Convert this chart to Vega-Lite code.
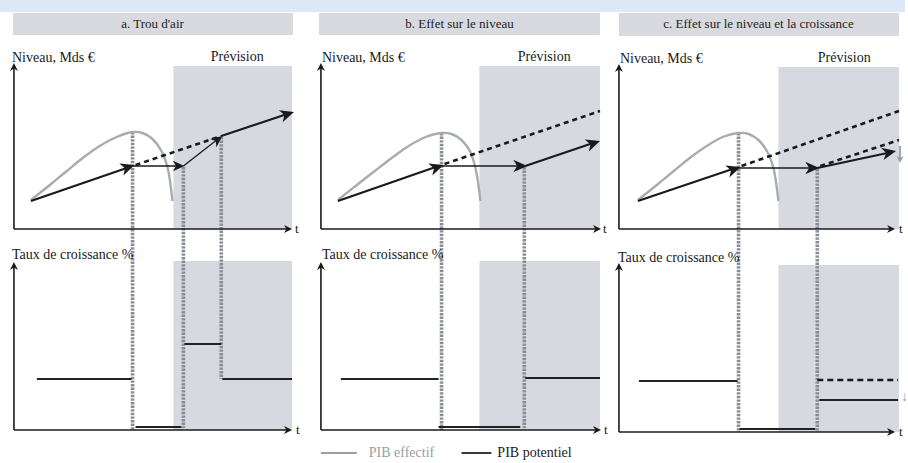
{
  "$schema": "https://vega.github.io/schema/vega-lite/v6.json",
  "width": 908,
  "height": 463,
  "padding": 0,
  "autosize": {"type": "fit", "contains": "padding"},
  "background": "white",
  "config": {"view": {"stroke": null}, "text": {"font": "Liberation Serif"}},
  "datasets": {
    "boxes": [
      {"kind": "band", "x": 0, "x2": 908, "y": 0, "y2": 12},
      {"kind": "title", "x": 13, "x2": 294, "y": 13, "y2": 35},
      {"kind": "title", "x": 320, "x2": 602, "y": 13, "y2": 35},
      {"kind": "title", "x": 621, "x2": 902, "y": 13, "y2": 36},
      {"kind": "shade", "x": 174, "x2": 293, "y": 66, "y2": 229},
      {"kind": "shade", "x": 481, "x2": 602, "y": 66, "y2": 229},
      {"kind": "shade", "x": 781, "x2": 902, "y": 67, "y2": 229},
      {"kind": "shade", "x": 174, "x2": 293, "y": 261, "y2": 430},
      {"kind": "shade", "x": 481, "x2": 602, "y": 261, "y2": 430},
      {"kind": "shade", "x": 781, "x2": 902, "y": 265, "y2": 432}
    ],
    "segs": [
      {"style": "axis", "x": 14, "y": 229, "x2": 14, "y2": 67},
      {"style": "axis", "x": 14, "y": 229, "x2": 289, "y2": 229},
      {"style": "axis", "x": 14, "y": 430, "x2": 14, "y2": 266},
      {"style": "axis", "x": 14, "y": 430, "x2": 289, "y2": 430},
      {"style": "axis", "x": 322, "y": 229, "x2": 322, "y2": 67},
      {"style": "axis", "x": 322, "y": 229, "x2": 599, "y2": 229},
      {"style": "axis", "x": 322, "y": 430, "x2": 322, "y2": 266},
      {"style": "axis", "x": 322, "y": 430, "x2": 599, "y2": 430},
      {"style": "axis", "x": 621, "y": 229, "x2": 621, "y2": 68},
      {"style": "axis", "x": 621, "y": 229, "x2": 894, "y2": 229},
      {"style": "axis", "x": 621, "y": 432, "x2": 621, "y2": 267},
      {"style": "axis", "x": 621, "y": 432, "x2": 894, "y2": 432},

      {"style": "dotted", "x": 133, "y": 132, "x2": 133, "y2": 430},
      {"style": "dotted", "x": 184, "y": 167, "x2": 184, "y2": 428},
      {"style": "dotted", "x": 222, "y": 137, "x2": 222, "y2": 379},
      {"style": "dotted", "x": 443, "y": 133, "x2": 443, "y2": 430},
      {"style": "dotted", "x": 526, "y": 167, "x2": 526, "y2": 428},
      {"style": "dotted", "x": 741, "y": 133, "x2": 741, "y2": 432},
      {"style": "dotted", "x": 820, "y": 169, "x2": 820, "y2": 432},

      {"style": "thick", "x": 31, "y": 201, "x2": 130, "y2": 167},
      {"style": "thick", "x": 222, "y": 136, "x2": 291, "y2": 113},
      {"style": "thick", "x": 339, "y": 201, "x2": 440, "y2": 166},
      {"style": "thick", "x": 527, "y": 166, "x2": 598, "y2": 142},
      {"style": "thick", "x": 640, "y": 201, "x2": 738, "y2": 168},
      {"style": "thick", "x": 820, "y": 168, "x2": 895, "y2": 152},

      {"style": "thin", "x": 133, "y": 166, "x2": 182, "y2": 166},
      {"style": "thin", "x": 184, "y": 166, "x2": 220, "y2": 138},
      {"style": "thin", "x": 443, "y": 166, "x2": 524, "y2": 166},
      {"style": "thin", "x": 741, "y": 168, "x2": 817, "y2": 168},

      {"style": "dashed", "x": 136, "y": 165, "x2": 222, "y2": 136},
      {"style": "dashed", "x": 446, "y": 164, "x2": 602, "y2": 111},
      {"style": "dashed", "x": 744, "y": 166, "x2": 902, "y2": 111},
      {"style": "dashed", "x": 823, "y": 166, "x2": 902, "y2": 140},

      {"style": "growth", "x": 37, "y": 379, "x2": 132, "y2": 379},
      {"style": "growth", "x": 136, "y": 427, "x2": 182, "y2": 427},
      {"style": "growth", "x": 185, "y": 344, "x2": 222, "y2": 344},
      {"style": "growth", "x": 223, "y": 379, "x2": 293, "y2": 379},
      {"style": "growth", "x": 342, "y": 379, "x2": 440, "y2": 379},
      {"style": "growth", "x": 440, "y": 427, "x2": 522, "y2": 427},
      {"style": "growth", "x": 527, "y": 378, "x2": 602, "y2": 378},
      {"style": "growth", "x": 641, "y": 381, "x2": 740, "y2": 381},
      {"style": "growth", "x": 742, "y": 429, "x2": 818, "y2": 429},
      {"style": "growth", "x": 822, "y": 400, "x2": 901, "y2": 400},
      {"style": "growthdash", "x": 820, "y": 380, "x2": 901, "y2": 380},

      {"style": "grayarrow", "x": 903, "y": 146, "x2": 903, "y2": 158},
      {"style": "legendgray", "x": 322, "y": 453, "x2": 358, "y2": 453},
      {"style": "legendblack", "x": 463, "y": 453, "x2": 493, "y2": 453}
    ],
    "curves": [
      {"panel": "a", "o": 0, "x": 31, "y": 200},
      {"panel": "a", "o": 1, "x": 50, "y": 185},
      {"panel": "a", "o": 2, "x": 67, "y": 171},
      {"panel": "a", "o": 3, "x": 83, "y": 158},
      {"panel": "a", "o": 4, "x": 100, "y": 146},
      {"panel": "a", "o": 5, "x": 117, "y": 137},
      {"panel": "a", "o": 6, "x": 133, "y": 132},
      {"panel": "a", "o": 7, "x": 143, "y": 133},
      {"panel": "a", "o": 8, "x": 153, "y": 139},
      {"panel": "a", "o": 9, "x": 162, "y": 151},
      {"panel": "a", "o": 10, "x": 168, "y": 167},
      {"panel": "a", "o": 11, "x": 171, "y": 184},
      {"panel": "a", "o": 12, "x": 173, "y": 201},
      {"panel": "b", "o": 0, "x": 339, "y": 200},
      {"panel": "b", "o": 1, "x": 358, "y": 185},
      {"panel": "b", "o": 2, "x": 376, "y": 171},
      {"panel": "b", "o": 3, "x": 393, "y": 158},
      {"panel": "b", "o": 4, "x": 410, "y": 146},
      {"panel": "b", "o": 5, "x": 427, "y": 137},
      {"panel": "b", "o": 6, "x": 443, "y": 133},
      {"panel": "b", "o": 7, "x": 453, "y": 134},
      {"panel": "b", "o": 8, "x": 463, "y": 140},
      {"panel": "b", "o": 9, "x": 472, "y": 152},
      {"panel": "b", "o": 10, "x": 477, "y": 168},
      {"panel": "b", "o": 11, "x": 480, "y": 185},
      {"panel": "b", "o": 12, "x": 482, "y": 201},
      {"panel": "c", "o": 0, "x": 640, "y": 200},
      {"panel": "c", "o": 1, "x": 659, "y": 185},
      {"panel": "c", "o": 2, "x": 676, "y": 171},
      {"panel": "c", "o": 3, "x": 692, "y": 158},
      {"panel": "c", "o": 4, "x": 709, "y": 146},
      {"panel": "c", "o": 5, "x": 725, "y": 137},
      {"panel": "c", "o": 6, "x": 741, "y": 133},
      {"panel": "c", "o": 7, "x": 751, "y": 134},
      {"panel": "c", "o": 8, "x": 761, "y": 140},
      {"panel": "c", "o": 9, "x": 770, "y": 152},
      {"panel": "c", "o": 10, "x": 776, "y": 168},
      {"panel": "c", "o": 11, "x": 779, "y": 185},
      {"panel": "c", "o": 12, "x": 781, "y": 201}
    ],
    "heads": [
      {"kind": "axis", "x": 14, "y": 63, "angle": -90},
      {"kind": "axis", "x": 293, "y": 229, "angle": 0},
      {"kind": "axis", "x": 14, "y": 262, "angle": -90},
      {"kind": "axis", "x": 293, "y": 430, "angle": 0},
      {"kind": "axis", "x": 322, "y": 63, "angle": -90},
      {"kind": "axis", "x": 603, "y": 229, "angle": 0},
      {"kind": "axis", "x": 322, "y": 262, "angle": -90},
      {"kind": "axis", "x": 603, "y": 430, "angle": 0},
      {"kind": "axis", "x": 621, "y": 64, "angle": -90},
      {"kind": "axis", "x": 898, "y": 229, "angle": 0},
      {"kind": "axis", "x": 621, "y": 263, "angle": -90},
      {"kind": "axis", "x": 898, "y": 432, "angle": 0},
      {"kind": "big", "x": 135, "y": 165, "angle": -19},
      {"kind": "mid", "x": 185, "y": 166, "angle": 0},
      {"kind": "mid", "x": 223, "y": 136, "angle": -38},
      {"kind": "big", "x": 295, "y": 112, "angle": -18},
      {"kind": "big", "x": 445, "y": 165, "angle": -19},
      {"kind": "big", "x": 529, "y": 166, "angle": 0},
      {"kind": "big", "x": 602, "y": 141, "angle": -19},
      {"kind": "big", "x": 743, "y": 167, "angle": -19},
      {"kind": "big", "x": 822, "y": 168, "angle": 0},
      {"kind": "big", "x": 899, "y": 151, "angle": -12},
      {"kind": "gray", "x": 903, "y": 163, "angle": 90}
    ],
    "labels": [
      {"kind": "title", "x": 153, "y": 24, "text": "a. Trou d'air"},
      {"kind": "title", "x": 461, "y": 24, "text": "b. Effet sur le niveau"},
      {"kind": "title", "x": 761, "y": 24, "text": "c. Effet sur le niveau et la croissance"},
      {"kind": "axislabel", "x": 12, "y": 58, "text": "Niveau, Mds €"},
      {"kind": "axislabel", "x": 323, "y": 58, "text": "Niveau, Mds €"},
      {"kind": "axislabel", "x": 622, "y": 59, "text": "Niveau, Mds €"},
      {"kind": "axislabel", "x": 12, "y": 255, "text": "Taux  de croissance %"},
      {"kind": "axislabel", "x": 323, "y": 255, "text": "Taux de croissance %"},
      {"kind": "axislabel", "x": 620, "y": 258, "text": "Taux  de croissance %"},
      {"kind": "prev", "x": 238, "y": 57, "text": "Prévision"},
      {"kind": "prev", "x": 546, "y": 57, "text": "Prévision"},
      {"kind": "prev", "x": 847, "y": 58, "text": "Prévision"},
      {"kind": "t", "x": 296, "y": 229, "text": "t"},
      {"kind": "t", "x": 297, "y": 430, "text": "t"},
      {"kind": "t", "x": 605, "y": 229, "text": "t"},
      {"kind": "t", "x": 606, "y": 430, "text": "t"},
      {"kind": "t", "x": 902, "y": 229, "text": "t"},
      {"kind": "t", "x": 902, "y": 432, "text": "t"},
      {"kind": "legend", "x": 370, "y": 453, "text": "PIB  effectif"},
      {"kind": "legendblack", "x": 499, "y": 453, "text": "PIB potentiel"},
      {"kind": "tiny", "x": 904, "y": 397, "text": "↓"}
    ]
  },
  "layer": [
    {
      "data": {"name": "boxes"},
      "mark": {"type": "rect"},
      "encoding": {
        "x": {"field": "x", "type": "quantitative", "scale": {"domain": [0, 908], "nice": false, "zero": false}, "axis": null},
        "x2": {"field": "x2"},
        "y": {"field": "y", "type": "quantitative", "scale": {"domain": [0, 463], "nice": false, "zero": false, "reverse": true}, "axis": null},
        "y2": {"field": "y2"},
        "color": {"field": "kind", "type": "nominal", "legend": null,
          "scale": {"domain": ["band", "title", "shade"], "range": ["#dde9f7", "#d9dadf", "#d6d9e0"]}}
      }
    },
    {
      "data": {"name": "segs"},
      "transform": [{"filter": "datum.style === 'dotted'"}],
      "mark": {"type": "rule", "color": "#878c95", "strokeWidth": 3.6, "strokeDash": [2.4, 1.2]},
      "encoding": {
        "x": {"field": "x", "type": "quantitative"}, "x2": {"field": "x2"},
        "y": {"field": "y", "type": "quantitative"}, "y2": {"field": "y2"}
      }
    },
    {
      "data": {"name": "curves"},
      "mark": {"type": "line", "color": "#a7abb2", "strokeWidth": 2.4, "interpolate": "catmull-rom"},
      "encoding": {
        "x": {"field": "x", "type": "quantitative"},
        "y": {"field": "y", "type": "quantitative"},
        "detail": {"field": "panel"},
        "order": {"field": "o"}
      }
    },
    {
      "data": {"name": "segs"},
      "transform": [{"filter": "datum.style === 'axis'"}],
      "mark": {"type": "rule", "color": "#1a1a1a", "strokeWidth": 1.6},
      "encoding": {
        "x": {"field": "x", "type": "quantitative"}, "x2": {"field": "x2"},
        "y": {"field": "y", "type": "quantitative"}, "y2": {"field": "y2"}
      }
    },
    {
      "data": {"name": "segs"},
      "transform": [{"filter": "datum.style === 'thick'"}],
      "mark": {"type": "rule", "color": "#1a1a1a", "strokeWidth": 2.2},
      "encoding": {
        "x": {"field": "x", "type": "quantitative"}, "x2": {"field": "x2"},
        "y": {"field": "y", "type": "quantitative"}, "y2": {"field": "y2"}
      }
    },
    {
      "data": {"name": "segs"},
      "transform": [{"filter": "datum.style === 'thin'"}],
      "mark": {"type": "rule", "color": "#1a1a1a", "strokeWidth": 1.3},
      "encoding": {
        "x": {"field": "x", "type": "quantitative"}, "x2": {"field": "x2"},
        "y": {"field": "y", "type": "quantitative"}, "y2": {"field": "y2"}
      }
    },
    {
      "data": {"name": "segs"},
      "transform": [{"filter": "datum.style === 'dashed'"}],
      "mark": {"type": "rule", "color": "#1a1a1a", "strokeWidth": 2.6, "strokeDash": [5, 4]},
      "encoding": {
        "x": {"field": "x", "type": "quantitative"}, "x2": {"field": "x2"},
        "y": {"field": "y", "type": "quantitative"}, "y2": {"field": "y2"}
      }
    },
    {
      "data": {"name": "segs"},
      "transform": [{"filter": "datum.style === 'growth' || datum.style === 'legendblack'"}],
      "mark": {"type": "rule", "color": "#222222", "strokeWidth": 1.8},
      "encoding": {
        "x": {"field": "x", "type": "quantitative"}, "x2": {"field": "x2"},
        "y": {"field": "y", "type": "quantitative"}, "y2": {"field": "y2"}
      }
    },
    {
      "data": {"name": "segs"},
      "transform": [{"filter": "datum.style === 'growthdash'"}],
      "mark": {"type": "rule", "color": "#1a1a1a", "strokeWidth": 2.4, "strokeDash": [6, 4]},
      "encoding": {
        "x": {"field": "x", "type": "quantitative"}, "x2": {"field": "x2"},
        "y": {"field": "y", "type": "quantitative"}, "y2": {"field": "y2"}
      }
    },
    {
      "data": {"name": "segs"},
      "transform": [{"filter": "datum.style === 'grayarrow' || datum.style === 'legendgray'"}],
      "mark": {"type": "rule", "color": "#9a9ea5", "strokeWidth": 1.8},
      "encoding": {
        "x": {"field": "x", "type": "quantitative"}, "x2": {"field": "x2"},
        "y": {"field": "y", "type": "quantitative"}, "y2": {"field": "y2"}
      }
    },
    {
      "data": {"name": "heads"},
      "transform": [{"filter": "datum.kind === 'axis'"}],
      "mark": {"type": "point", "shape": "M0,0L-1,-0.5L-0.7,0L-1,0.5Z", "filled": true, "color": "#1a1a1a", "size": 256, "opacity": 1},
      "encoding": {
        "x": {"field": "x", "type": "quantitative"},
        "y": {"field": "y", "type": "quantitative"},
        "angle": {"field": "angle", "type": "quantitative", "scale": null}
      }
    },
    {
      "data": {"name": "heads"},
      "transform": [{"filter": "datum.kind === 'big'"}],
      "mark": {"type": "point", "shape": "M0,0L-1,-0.45L-0.72,0L-1,0.45Z", "filled": true, "color": "#1a1a1a", "size": 784, "opacity": 1},
      "encoding": {
        "x": {"field": "x", "type": "quantitative"},
        "y": {"field": "y", "type": "quantitative"},
        "angle": {"field": "angle", "type": "quantitative", "scale": null}
      }
    },
    {
      "data": {"name": "heads"},
      "transform": [{"filter": "datum.kind === 'mid'"}],
      "mark": {"type": "point", "shape": "M0,0L-1,-0.45L-0.72,0L-1,0.45Z", "filled": true, "color": "#1a1a1a", "size": 529, "opacity": 1},
      "encoding": {
        "x": {"field": "x", "type": "quantitative"},
        "y": {"field": "y", "type": "quantitative"},
        "angle": {"field": "angle", "type": "quantitative", "scale": null}
      }
    },
    {
      "data": {"name": "heads"},
      "transform": [{"filter": "datum.kind === 'gray'"}],
      "mark": {"type": "point", "shape": "M0,0L-1,-0.5L-0.7,0L-1,0.5Z", "filled": true, "color": "#9a9ea5", "size": 196, "opacity": 1},
      "encoding": {
        "x": {"field": "x", "type": "quantitative"},
        "y": {"field": "y", "type": "quantitative"},
        "angle": {"field": "angle", "type": "quantitative", "scale": null}
      }
    },
    {
      "data": {"name": "labels"},
      "transform": [{"filter": "datum.kind === 'title'"}],
      "mark": {"type": "text", "font": "Liberation Serif", "fontSize": 13, "color": "#222222", "align": "center", "baseline": "middle"},
      "encoding": {
        "x": {"field": "x", "type": "quantitative"},
        "y": {"field": "y", "type": "quantitative"},
        "text": {"field": "text"}
      }
    },
    {
      "data": {"name": "labels"},
      "transform": [{"filter": "datum.kind === 'axislabel' || datum.kind === 'legendblack'"}],
      "mark": {"type": "text", "font": "Liberation Serif", "fontSize": 14, "color": "#1a1a1a", "align": "left", "baseline": "middle"},
      "encoding": {
        "x": {"field": "x", "type": "quantitative"},
        "y": {"field": "y", "type": "quantitative"},
        "text": {"field": "text"}
      }
    },
    {
      "data": {"name": "labels"},
      "transform": [{"filter": "datum.kind === 'prev'"}],
      "mark": {"type": "text", "font": "Liberation Serif", "fontSize": 14, "color": "#1a1a1a", "align": "center", "baseline": "middle"},
      "encoding": {
        "x": {"field": "x", "type": "quantitative"},
        "y": {"field": "y", "type": "quantitative"},
        "text": {"field": "text"}
      }
    },
    {
      "data": {"name": "labels"},
      "transform": [{"filter": "datum.kind === 't'"}],
      "mark": {"type": "text", "font": "Liberation Serif", "fontSize": 13, "color": "#1a1a1a", "align": "left", "baseline": "middle"},
      "encoding": {
        "x": {"field": "x", "type": "quantitative"},
        "y": {"field": "y", "type": "quantitative"},
        "text": {"field": "text"}
      }
    },
    {
      "data": {"name": "labels"},
      "transform": [{"filter": "datum.kind === 'legend' || datum.kind === 'tiny'"}],
      "mark": {"type": "text", "font": "Liberation Serif", "fontSize": 14, "color": "#9a9ea5", "align": "left", "baseline": "middle"},
      "encoding": {
        "x": {"field": "x", "type": "quantitative"},
        "y": {"field": "y", "type": "quantitative"},
        "text": {"field": "text"}
      }
    }
  ]
}
